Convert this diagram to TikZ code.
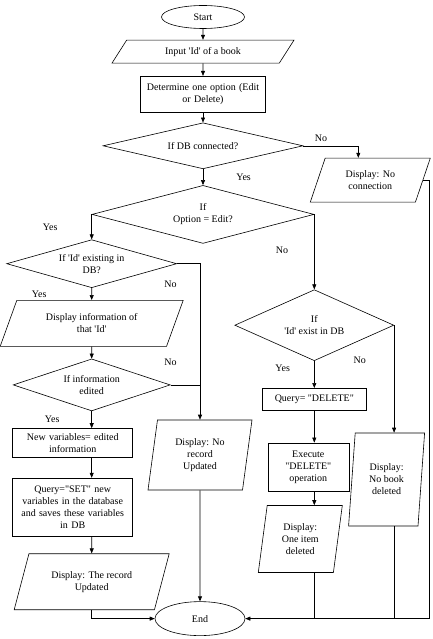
\documentclass[tikz,border=0pt]{standalone}
\usepackage{fontspec}
\setmainfont{Liberation Serif}
\usepackage{tikz}
\usetikzlibrary{arrows.meta,positioning,shapes.geometric}
\newcommand{\idq}{\textquotesingle Id\textquotesingle}
\newcommand{\dq}[1]{\textquotedbl#1\textquotedbl}
\tikzset{
  % Terminal (ellipse)
  term/.style={ellipse,draw,line width=0.6pt,
    minimum width=83pt,minimum height=23pt,inner sep=0pt},
  % Process box
  proc/.style={rectangle,draw,line width=0.6pt,
    align=center,inner sep=1pt},
  % Decision (diamond)
  dec/.style={diamond,draw,line width=0.6pt,
    align=center,inner sep=0pt},
  % Input / output (parallelogram)
  io/.style={trapezium,draw,line width=0.6pt,
    align=center,inner sep=0pt,trapezium stretches body},
  % Arrows
  arr/.style={-{Triangle[length=5pt,width=4pt]},line width=0.6pt},
  ln/.style={line width=0.6pt},
  lbl/.style={inner sep=1pt},
}
\begin{document}
\begin{tikzpicture}[font=\fontsize{10}{12}\selectfont]
  \useasboundingbox (0,0) rectangle (433pt,-639pt);

  % Main column
  \node[term] (start) at (203pt,-17pt) {Start};
  \node[io,below=11pt of start,minimum width=182pt,minimum height=23pt,
    trapezium left angle=32,trapezium right angle=148] (inp)
    {Input \idq{} of a book};
  \node[proc,below=12.5pt of inp,minimum width=125pt,minimum height=36pt,
    text width=121pt] (det)
    {Determine one option (Edit\\or Delete)};
  \node[dec,below=10pt of det,minimum width=200pt,minimum height=46pt,
    aspect=4.35] (dbc)
    {If DB connected?};
  \node[dec,below=16pt of dbc,minimum width=222pt,minimum height=58pt,
    aspect=3.83] (opt)
    {If\\Option = Edit?};
  \node[io,below=12pt of dbc.east,xshift=67pt,minimum width=120pt,
    minimum height=44pt,trapezium left angle=52,trapezium right angle=128] (noc)
    {Display: No\\connection};

  % Edit branch
  \node[dec,below=25pt of opt.west,minimum width=170pt,minimum height=48pt,
    aspect=3.54] (idex)
    {If \idq{} existing in\\DB?};
  \node[io,below=12pt of idex,minimum width=183pt,minimum height=46pt,
    trapezium left angle=49,trapezium right angle=131] (dinfo)
    {Display information of\\that \idq};
  \node[dec,below=12pt of dinfo,minimum width=157pt,minimum height=52pt,
    aspect=3.02] (edt)
    {If information\\edited};
  \node[proc,below=17pt of edt,xshift=-19pt,minimum width=120pt,
    minimum height=29pt,text width=116pt] (newv)
    {New variables= edited\\information};
  \node[proc,below=20pt of newv,minimum width=120pt,minimum height=58pt,
    text width=116pt] (qry)
    {Query=\dq{SET} new\\variables in the database\\and saves these variables\\in DB};
  \node[io,below=17pt of qry,xshift=19pt,minimum width=155pt,minimum height=56pt,
    trapezium left angle=55,trapezium right angle=125] (rec)
    {Display: The record\\Updated};
  \node[io,below=156pt of idex.east,xshift=23pt,minimum width=104pt,
    minimum height=70pt,trapezium left angle=74,trapezium right angle=106] (nrec)
    {Display: No\\record\\Updated};
  \node[term,below=111pt of nrec,minimum width=90pt,minimum height=34pt] (endn)
    {End};

  % Delete branch
  \node[dec,below=75pt of opt.east,minimum width=159pt,minimum height=71pt,
    aspect=2.24] (idel)
    {If\\\idq{} exist in DB};
  \node[proc,below=27pt of idel,minimum width=104pt,minimum height=22pt] (qdel)
    {Query= \dq{DELETE}};
  \node[proc,below=32pt of qdel,xshift=-6pt,minimum width=81pt,minimum height=48pt,
    text width=77pt] (exdel)
    {Execute\\\dq{DELETE}\\operation};
  \node[io,below=14pt of exdel,xshift=-8pt,minimum width=84pt,minimum height=67pt,
    trapezium left angle=74,trapezium right angle=106] (odel)
    {Display:\\One item\\deleted};
  \node[io,below=107.5pt of idel.east,xshift=-7.5pt,minimum width=76pt,
    minimum height=93pt,trapezium left angle=78,trapezium right angle=102] (nbk)
    {Display:\\No book\\deleted};
  \coordinate[right=184pt of endn.east] (rbus);

  \draw[arr] (start) -- (inp);
  \draw[arr] (inp) -- (det);
  \draw[arr] (det) -- (dbc);
  \draw[arr] (dbc) -- node[lbl,right=32pt] {Yes} (opt);
  \draw[arr] (dbc.east) -| node[lbl,pos=0.16,above=3pt] {No} ([xshift=-12pt]noc.north);
  \draw[arr] (noc.east) -| (rbus) -- (endn.east);

  \draw[arr] (opt.west) -- node[lbl,left=33pt] {Yes} (idex.north);
  \draw[arr] (idex) -- node[lbl,left=44pt] {Yes} (dinfo);
  \draw[arr] (dinfo) -- (edt);
  \draw[arr] (edt.south) -- node[lbl,left=31pt] {Yes} (edt.south |- newv.north);
  \draw[arr] (newv.south -| edt.south) -- (edt.south |- qry.north);
  \draw[arr] (qry.south -| edt.south) -- (rec);
  \draw[arr] (rec.south) |- (endn.west);
  \draw[arr] (idex.east) -| node[lbl,pos=0.567,left=22pt] {No} (nrec.north);
  \draw[ln] (edt.east) -- node[lbl,at start,above=18pt] {No} (edt.east -| nrec.north);
  \draw[arr] (nrec) -- (endn);

  \draw[arr] (opt.east) -- node[lbl,pos=0.48,left=25pt] {No} (idel.north);
  \draw[arr] (idel) -- node[lbl,pos=0.26,left=23pt] {Yes} (qdel);
  \draw[arr] (idel.east) -- node[lbl,pos=0.33,left=27pt] {No} (idel.east |- nbk.north);
  \draw[arr] (qdel.south) -- (qdel.south |- exdel.north);
  \draw[arr] (exdel.south -| qdel.south) -- (qdel.south |- odel.north);
  \draw[ln] (odel.south -| qdel.south) -- (qdel.south |- endn.east);
  \draw[ln] (nbk.south -| idel.east) -- (idel.east |- endn.east);
\end{tikzpicture}
\end{document}
